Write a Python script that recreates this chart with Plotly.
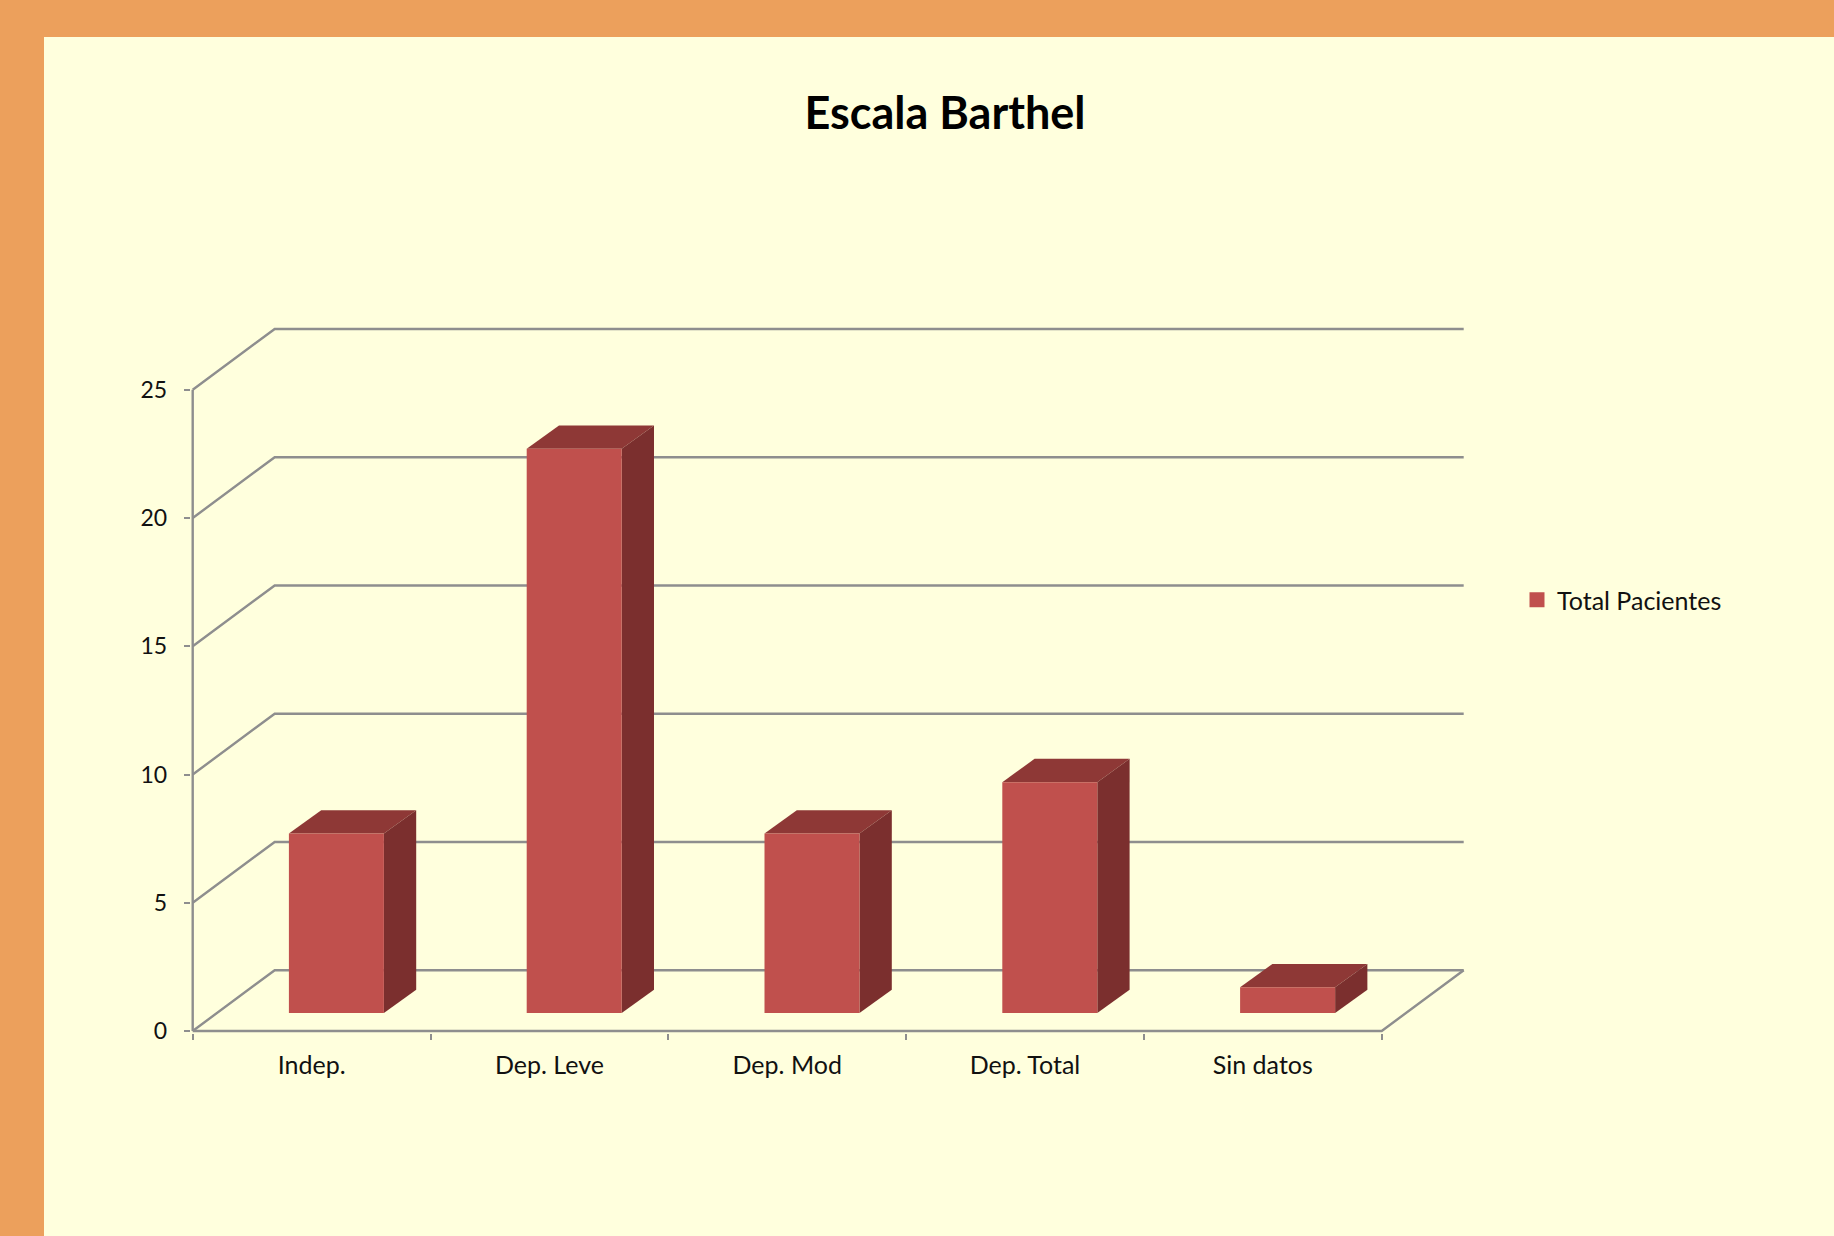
import plotly.graph_objects as go

categories = ["Indep.", "Dep. Leve", "Dep. Mod", "Dep. Total", "Sin datos"]
total_pacientes = [7, 22, 7, 9, 1]
y_ticks = [0, 5, 10, 15, 20, 25]
series_name = "Total Pacientes"
title_text = "Escala Barthel"

W, H = 1834, 1236
LEFT, FLOOR = 192.7, 1031.0
PAD = 2.0                                      # room so edge lines are not clipped
CAT_W, UNIT = 237.8, 25.65
WALL_DX, WALL_DY = 82.0 / CAT_W, 60.8 / UNIT   # depth of the floor
BAR_W = 95 / CAT_W
BAR_SHIFT_X, BAR_BASE = 24.8 / CAT_W, 18 / UNIT
BAR_DX, BAR_DY = 32.3 / CAT_W, 23.3 / UNIT

FRONT, TOP, SIDE = "#C0504D", "#8E3836", "#7B2F2E"
GRID = "#8E8E8E"
ORANGE, PANEL = "#ECA05C", "#FFFFDD"
FONT = "Lato"
n = len(categories)
x_max = n + WALL_DX
y_max = y_ticks[-1] + WALL_DY

fig = go.Figure()


def line(xs, ys):
    fig.add_trace(go.Scatter(x=xs, y=ys, mode="lines", showlegend=False, hoverinfo="skip",
                             line=dict(color=GRID, width=2.4), zorder=0, cliponaxis=False))


for v in y_ticks:
    line([0, WALL_DX, n + WALL_DX], [v, v + WALL_DY, v + WALL_DY])
line([0, n, n + WALL_DX], [0, 0, WALL_DY])
line([0, 0], [0, y_ticks[-1]])

centers = [i + 0.5 + BAR_SHIFT_X for i in range(n)]
fig.add_trace(go.Bar(x=centers, y=total_pacientes, base=[BAR_BASE] * n, width=BAR_W,
                     marker=dict(color=FRONT, line=dict(width=0)), name=series_name,
                     showlegend=False, zorder=2))

for c, v in zip(centers, total_pacientes):
    l, r = c - BAR_W / 2, c + BAR_W / 2
    b, t = BAR_BASE, BAR_BASE + v
    fig.add_trace(go.Scatter(x=[l, r, r + BAR_DX, l + BAR_DX, l],
                             y=[t, t, t + BAR_DY, t + BAR_DY, t],
                             mode="lines", fill="toself", fillcolor=TOP,
                             line=dict(width=0, color=TOP), showlegend=False,
                             hoverinfo="skip", zorder=1))
    fig.add_trace(go.Scatter(x=[r, r + BAR_DX, r + BAR_DX, r, r],
                             y=[b, b + BAR_DY, t + BAR_DY, t, b],
                             mode="lines", fill="toself", fillcolor=SIDE,
                             line=dict(width=0, color=SIDE), showlegend=False,
                             hoverinfo="skip", zorder=1))

fig.add_trace(go.Scatter(x=[None], y=[None], mode="markers", name=series_name,
                         marker=dict(symbol="square", size=15, color=FRONT)))

fig.update_layout(
    width=W, height=H, margin=dict(l=0, r=0, t=0, b=0, autoexpand=False), autosize=False,
    paper_bgcolor=ORANGE, plot_bgcolor="rgba(0,0,0,0)", barmode="overlay",
    font=dict(family=FONT, color="#111111", size=25),
    title=dict(text=f"<b>{title_text}</b>", x=945 / W, xanchor="center", y=1 - 113 / H,
               yanchor="middle", font=dict(family=FONT, size=45, color="#000000")),
    shapes=[dict(type="rect", xref="paper", yref="paper", x0=44 / W, x1=1, y0=0, y1=1 - 37 / H,
                 fillcolor=PANEL, line=dict(width=0), layer="below")],
    xaxis=dict(domain=[(LEFT - PAD) / W, (LEFT + x_max * CAT_W + PAD) / W],
               range=[-PAD / CAT_W, x_max + PAD / CAT_W], automargin=False,
               tickmode="array", tickvals=[i + 0.5 for i in range(n)], ticktext=categories,
               ticks="", showgrid=False, zeroline=False, showline=False,
               ticklabelstandoff=15,
               minor=dict(tickmode="array", tickvals=list(range(n + 1)), ticks="outside",
                          ticklen=6, tickwidth=2, tickcolor=GRID, showgrid=False)),
    yaxis=dict(domain=[1 - (FLOOR + PAD) / H, 1 - (FLOOR - y_max * UNIT - PAD) / H],
               range=[-PAD / UNIT, y_max + PAD / UNIT], automargin=False,
               tickmode="array", tickvals=y_ticks, ticks="outside", ticklen=6, tickwidth=2,
               tickcolor=GRID, showgrid=False, zeroline=False, showline=False,
               ticklabelstandoff=12, tickfont=dict(size=23)),
    legend=dict(x=1517 / W, y=1 - 600 / H, xanchor="left", yanchor="middle",
                bgcolor="rgba(0,0,0,0)", font=dict(family=FONT, size=25)),
)

fig.write_html("out.html", config=dict(displayModeBar=False),
               post_script="document.body.style.margin='0';document.body.style.overflow='hidden';")
